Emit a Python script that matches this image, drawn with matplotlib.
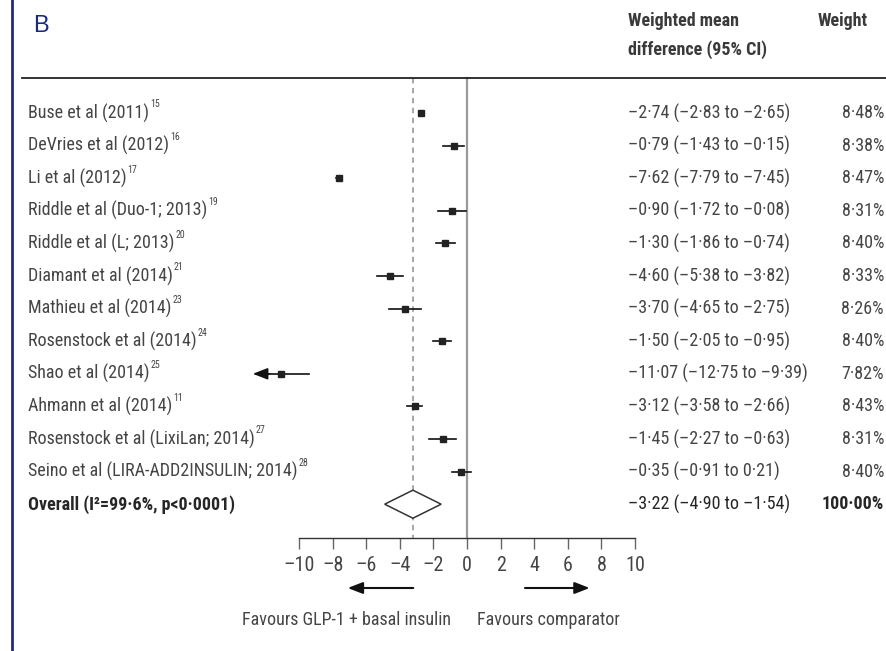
import matplotlib
matplotlib.use("Agg")
import matplotlib.pyplot as plt
from matplotlib import font_manager
from matplotlib.patches import Polygon
from matplotlib.transforms import blended_transform_factory
from matplotlib.lines import Line2D

avail = {f.name for f in font_manager.fontManager.ttflist}
main_font = None
for cand in ['Liberation Sans Narrow', 'Roboto Condensed', 'Open Sans Condensed',
             'DejaVu Sans Condensed', 'Lato', 'Liberation Sans']:
    if cand in avail:
        main_font = cand
        break
plt.rcParams['font.family'] = [main_font, 'DejaVu Sans']

studies = ["Buse et al (2011)", "DeVries et al (2012)", "Li et al (2012)",
           "Riddle et al (Duo-1; 2013)", "Riddle et al (L; 2013)", "Diamant et al (2014)",
           "Mathieu et al (2014)", "Rosenstock et al (2014)", "Shao et al (2014)",
           "Ahmann et al (2014)", "Rosenstock et al (LixiLan; 2014)",
           "Seino et al (LIRA-ADD2INSULIN; 2014)"]
refs = ["15", "16", "17", "19", "20", "21", "23", "24", "25", "11", "27", "28"]
means = [-2.74, -0.79, -7.62, -0.90, -1.30, -4.60, -3.70, -1.50, -11.07, -3.12, -1.45, -0.35]
lows = [-2.83, -1.43, -7.79, -1.72, -1.86, -5.38, -4.65, -2.05, -12.75, -3.58, -2.27, -0.91]
highs = [-2.65, -0.15, -7.45, -0.08, -0.74, -3.82, -2.75, -0.95, -9.39, -2.66, -0.63, 0.21]
weights = ["8·48%", "8·38%", "8·47%", "8·31%", "8·40%", "8·33%", "8·26%", "8·40%",
           "7·82%", "8·43%", "8·31%", "8·40%"]
overall_label = "Overall (I²=99·6%, p<0·0001)"
overall_mean, overall_low, overall_high = -3.22, -4.90, -1.54
overall_weight = "100·00%"
xticks = [-10, -8, -6, -4, -2, 0, 2, 4, 6, 8, 10]
axis_min, axis_max = -10, 10

W, H = 886, 651
fig = plt.figure(figsize=(W / 100, H / 100), dpi=100)
ax = fig.add_axes([0, 0, 1, 1])
renderer = fig.canvas.get_renderer()

probe = fig.text(0, 0, studies[-1], fontsize=10)
w10 = probe.get_window_extent(renderer).width
probe.remove()
fs = min(13.5, 10 * 268.0 / w10)
sup_fs = fs * 0.55

x0, sx = 467.0, 16.8
y0, sy = 113.0, 32.6
ax.set_xlim(-x0 / sx, (W - x0) / sx)
ax.set_ylim((H - y0) / sy, -y0 / sy)
for s in ['top', 'left', 'right']:
    ax.spines[s].set_visible(False)
ax.set_yticks([])

axis_row = (538 - y0) / sy
top_row = (78 - y0) / sy

txt = '#454545'
ax.spines['bottom'].set_position(('data', axis_row))
ax.spines['bottom'].set_bounds(axis_min, axis_max)
ax.spines['bottom'].set_color('#333333')
ax.spines['bottom'].set_linewidth(1.0)
ax.set_xticks(xticks)
ax.set_xticklabels([("–" + str(-t)) if t < 0 else str(t) for t in xticks])
ax.tick_params(axis='x', direction='out', length=8, width=1, color='#666666',
               labelsize=fs + 1.5, labelcolor=txt, pad=5)

ax.plot([0, 0], [top_row, axis_row], color='#9a9a9a', lw=1.6, zorder=1)
ax.plot([overall_mean, overall_mean], [top_row, axis_row], color='#a0a0a0', lw=1.3,
        ls=(0, (3, 2.5)), zorder=1)

n = len(studies)
for i in range(n):
    if lows[i] < axis_min:
        ax.plot([highs[i], lows[i] + 0.9], [i, i], color='#111111', lw=1.2, zorder=3)
        ax.annotate('', xy=(lows[i], i), xytext=(lows[i] + 1.0, i),
                    arrowprops=dict(arrowstyle='-|>,head_length=0.9,head_width=0.35',
                                    color='#111111', lw=1.2, shrinkA=0, shrinkB=0))
    else:
        ax.plot([lows[i], highs[i]], [i, i], color='#111111', lw=1.2, zorder=3)
    ax.plot(means[i], i, marker='s', ms=4.5, color='#222222', zorder=4)

diamond = Polygon([(overall_low, n), (overall_mean, n - 0.43), (overall_high, n),
                   (overall_mean, n + 0.43)], closed=True, facecolor='white',
                  edgecolor='#333333', lw=1.1, zorder=4)
ax.add_patch(diamond)

bt = blended_transform_factory(fig.transFigure, ax.transData)
for i in range(n):
    t = ax.text(28 / W, i, studies[i], transform=bt, ha='left', va='center',
                fontsize=fs, color=txt)
    ax.annotate(refs[i], xy=(1.0, 0.95), xycoords=t, xytext=(0.6, 0),
                textcoords='offset points', ha='left', va='center', fontsize=sup_fs,
                color=txt)
    s = "–{:.2f} (–{:.2f} to {}{:.2f})".format(-means[i], -lows[i],
                                              "–" if highs[i] < 0 else "", abs(highs[i]))
    ax.text(628 / W, i, s.replace('.', '·'), transform=bt, ha='left', va='center',
            fontsize=fs, color=txt)
    ax.text(884 / W, i, weights[i], transform=bt, ha='right', va='center', fontsize=fs,
            color=txt)

dark = '#262626'
ax.text(28 / W, n, overall_label, transform=bt, ha='left', va='center', fontsize=fs,
        color=dark, fontweight='bold')
s = "–{:.2f} (–{:.2f} to –{:.2f})".format(-overall_mean, -overall_low, -overall_high)
ax.text(628 / W, n, s.replace('.', '·'), transform=bt, ha='left', va='center',
        fontsize=fs, color=dark)
ax.text(884 / W, n, overall_weight, transform=bt, ha='right', va='center', fontsize=fs,
        color=dark, fontweight='bold')

hdr = '#3a3a3a'
fig.text(628 / W, 1 - 21 / H, "Weighted mean", ha='left', va='center', fontsize=fs,
         color=hdr, fontweight='bold')
fig.text(628 / W, 1 - 50 / H, "difference (95% CI)", ha='left', va='center', fontsize=fs,
         color=hdr, fontweight='bold')
fig.text(868 / W, 1 - 21 / H, "Weight", ha='right', va='center', fontsize=fs,
         color=hdr, fontweight='bold')
fig.add_artist(Line2D([22 / W, 1], [1 - 78 / H, 1 - 78 / H], color='#222222', lw=1.3))

fig.text(33 / W, 1 - 26 / H, "B", ha='left', va='center', fontsize=17, color='#1a2a80',
         family=['Liberation Sans', 'DejaVu Sans'])
fig.add_artist(Line2D([12 / W, 12 / W], [0, 1], color='#1a2a80', lw=2))

arow = (588 - y0) / sy
ax.annotate('', xy=(-7.1, arow), xytext=(-3.2, arow),
            arrowprops=dict(arrowstyle='-|>,head_length=0.9,head_width=0.35',
                            color='#111111', lw=1.5, shrinkA=0, shrinkB=0))
ax.annotate('', xy=(7.3, arow), xytext=(3.45, arow),
            arrowprops=dict(arrowstyle='-|>,head_length=0.9,head_width=0.35',
                            color='#111111', lw=1.5, shrinkA=0, shrinkB=0))
lrow = (620 - y0) / sy
ax.text(346 / W, lrow, "Favours GLP-1 + basal insulin", transform=bt, ha='center',
        va='center', fontsize=fs, color=txt)
ax.text(548 / W, lrow, "Favours comparator", transform=bt, ha='center', va='center',
        fontsize=fs, color=txt)

fig.savefig("out.png", dpi=100, facecolor='white')
